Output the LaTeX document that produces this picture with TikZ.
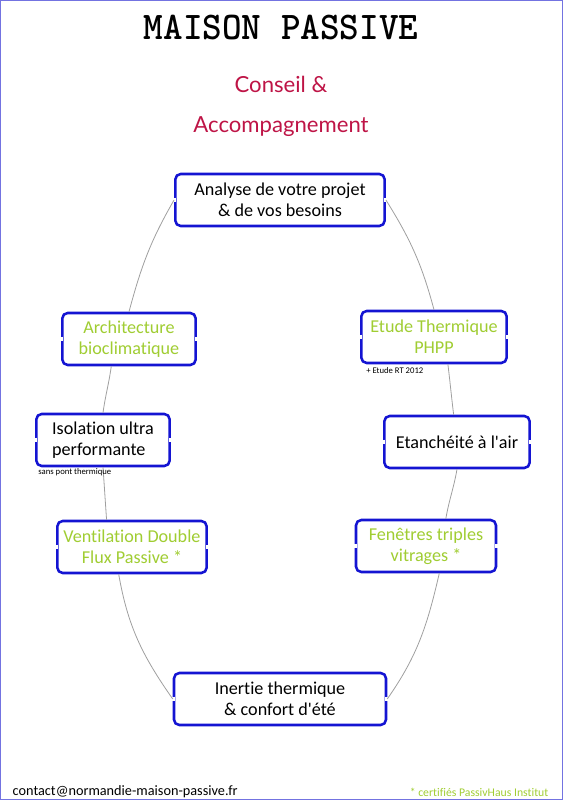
\documentclass[tikz,border=0pt]{standalone}
\usepackage{fontspec}
\usepackage{graphicx}
\setmainfont{Carlito}[Ligatures={TeXOff,CommonOff}]
\newfontfamily\handfont{Lato}
\definecolor{boxblue}{RGB}{20,20,210}
\definecolor{leafgreen}{RGB}{160,205,50}
\definecolor{wine}{RGB}{190,20,70}
\definecolor{frameblue}{RGB}{115,115,225}

\begin{document}
\begin{tikzpicture}[x=0.75pt,y=0.75pt,
    etape/.style={draw=boxblue,line width=1.9pt,rounded corners=4pt,fill=white,
      minimum height=39pt,inner sep=0pt,align=center,
      font=\fontsize{13.6}{16}\selectfont},
    vert/.style={text=leafgreen},
    lien/.style={gray!75,line width=0.6pt},
    note/.style={anchor=north west,inner sep=0pt,font=\fontsize{6.5}{7.5}\selectfont}]
  \useasboundingbox (0,0) rectangle (563,800);
  \draw[frameblue,line width=1.1pt] (0.75,0.75) rectangle (562.25,799.25);

  \node (titre) at (281,772)
    {\ttfamily\bfseries\fontsize{28}{28}\selectfont\scalebox{1}[1.05]{MAISON PASSIVE}};
  \node[wine] (conseil) at (281,716) {\handfont\fontsize{16.6}{17}\selectfont Conseil \&};
  \node[wine] (accomp) at (281,673) {\handfont\fontsize{16.6}{17}\selectfont Accompagnement};

  \node[etape,minimum width=157pt] (analyse) at (280,600) {Analyse de votre projet\\\& de vos besoins};
  \node[etape,vert,minimum width=100pt] (archi) at (129,461) {Architecture\\bioclimatique};
  \node[etape,vert,minimum width=109pt] (etude) at (434,463) {Etude Thermique\\PHPP};
  \node[etape,align=left,minimum width=100pt] (isolation) at (103,360) {Isolation ultra\\performante};
  \node[etape,minimum width=109pt] (etancheite) at (457,358) {Etanchéité à l'air};
  \node[etape,vert,minimum width=112pt] (ventilation) at (132,253) {Ventilation Double\\Flux Passive *};
  \node[etape,vert,minimum width=105pt] (fenetres) at (426,254) {Fenêtres triples\\vitrages *};
  \node[etape,minimum width=159pt] (inertie) at (280,101) {Inertie thermique\\\& confort d'été};

  \foreach \n in {analyse,archi,etude,isolation,etancheite,ventilation,fenetres,inertie}{
    \draw[white,line width=3pt] ([yshift=1.7pt]\n.west) -- ([yshift=-1.7pt]\n.west);
    \draw[white,line width=3pt] ([yshift=1.7pt]\n.east) -- ([yshift=-1.7pt]\n.east);
  }

  \draw[lien] (analyse.west) to[out=240,in=75] (archi.north);
  \draw[lien] (archi.-123) to[out=-98,in=82] (isolation.north);
  \draw[lien] (isolation.south) to[out=-86,in=94] (ventilation.133);
  \draw[lien] (ventilation.-116) to[out=-80,in=125] (inertie.west);
  \draw[lien] (analyse.east) to[out=-58,in=105] (etude.north);
  \draw[lien] (etude.-63) to[out=-83,in=97] (etancheite.97);
  \draw[lien] (etancheite.south) to[out=-100,in=80] (fenetres.54);
  \draw[lien] (fenetres.-64) to[out=-103,in=55] (inertie.east);

  \node[note] (rt) at (366,433) {+ Etude RT 2012};
  \node[note] (pont) at (38,332) {sans pont thermique};

  \node[anchor=base west,font=\fontsize{10.7}{12}\selectfont] (contact) at (8,4)
    {contact@normandie-maison-passive.fr};
  \node[anchor=base east,text=leafgreen,font=\fontsize{8.8}{10}\selectfont] (certif) at (553,3)
    {* certifiés PassivHaus Institut};
\end{tikzpicture}
\end{document}
